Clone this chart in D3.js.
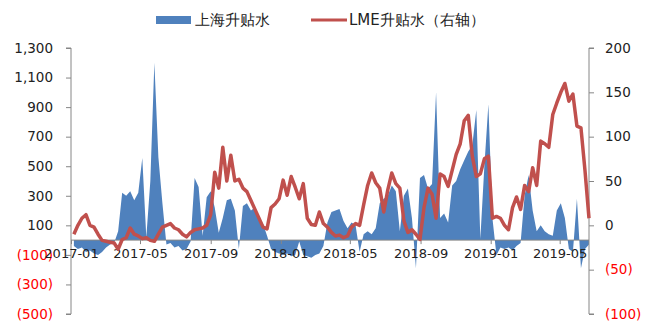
<!DOCTYPE html>
<html>
<head>
<meta charset="utf-8">
<script src="https://cdn.jsdelivr.net/npm/d3@7/dist/d3.min.js"></script>
<style>
  html, body { margin: 0; padding: 0; background: #fff; }
  svg { display: block; }
  text { font-family: "DejaVu Sans", sans-serif; }
</style>
</head>
<body>
<svg id="chart" width="646" height="324"></svg>
<script>
// Weekly observations, first Friday of 2017 onward
const firstWeek = new Date(2017, 0, 6);
const weekCount = 129;

// 上海升贴水 (left axis, yuan/tonne)
const shanghaiPremium = [
  -40, -60, -50, -80, -70, -90, -100, -80, -50, -30,
  -20, 60, 320, 300, 330, 270, 320, 555, 20, 400,
  1200, 560, 250, -30, -20, -50, -40, -70, -60, -10,
  420, 360, 30, 290, 330, 220, 50, 150, 270, 280,
  200, -60, 230, 250, 200, 220, 150, 110, 30, -60,
  -80, -90, -100, -90, -110, -100, -10, -100, -110, -120,
  -100, -90, -40, 120, 190, 200, 210, 130, 80, 120,
  100, -80, 40, 60, 40, 80, 250, 280, 300, 370,
  330, 60, 300, 350, 150, -190, 420, 440, 350, 380,
  1000, 150, 180, 120, 370, 400, 480, 540, 600, 640,
  880, 10, 500, 920, 150, -100, -50, -60, -50, -70,
  -40, -20, 300, 440, 200, 60, 100, 60, 40, 30,
  200, 250, 150, -60, -80, 280, -190, -60, -30
];

// LME升贴水 (right axis, USD/tonne)
const lmePremium = [
  -10, 0, 8, 12, 0, -2, -10, -17, -18, -19,
  -20, -27, -16, -14, -3, -10, -12, -15, -14, -17,
  -18, -10, -2, 0, 2, -3, -5, -10, -13, -8,
  -5, -4, -3, 0, 12, 60, 42, 88, 50, 79,
  50, 52, 42, 38, 28, 18, 8, -2, -4, 20,
  24, 30, 51, 34, 55, 43, 30, 47, 8, 1,
  0, 15, 2, -2, -8, -12, -11, -14, -12, -2,
  2, 0, 23, 45, 59, 48, 42, 15, 40, 59,
  47, 42, 5, -8, -5, -10, -16, 20, 42, 35,
  8, 58, 55, 44, 62, 80, 92, 118, 124, 78,
  55, 58, 75, 78, 8, 10, 8, 0, -5, 20,
  32, 18, 45, 38, 65, 45, 95, 92, 88, 125,
  138, 150, 160, 140, 148, 112, 110, 62, 8
];

const leftTicks = [-500, -300, -100, 100, 300, 500, 700, 900, 1100, 1300];
const rightTicks = [-100, -50, 0, 50, 100, 150, 200];
const monthTicks = ["2017-01", "2017-05", "2017-09", "2018-01", "2018-05", "2018-09", "2019-01", "2019-05"];
const seriesNames = ["上海升贴水", "LME升贴水（右轴）"];

const weeks = d3.range(weekCount).map(i => d3.timeDay.offset(firstWeek, 7 * i));
const parseMonth = d3.timeParse("%Y-%m");

const svg = d3.select("#chart");
const blue = "#4F81BD", red = "#C0504D", axisGrey = "#868686", negRed = "#FF0000";

const plot = { left: 71, right: 589, top: 48, bottom: 314 };

const x = d3.scaleTime()
  .domain([new Date(2017, 0, 1), weeks[weeks.length - 1]])
  .range([plot.left, plot.right]);
const yL = d3.scaleLinear().domain([-500, 1300]).range([plot.bottom, plot.top]);
const yR = d3.scaleLinear().domain([-100, 200]).range([plot.bottom, plot.top]);

const fmt = v => v < 0 ? "(" + d3.format(",")(-v) + ")" : d3.format(",")(v);

// Shanghai premium area
const area = d3.area()
  .x((d, i) => x(weeks[i]))
  .y0(yL(0))
  .y1(d => yL(d));
svg.append("path")
  .datum(shanghaiPremium)
  .attr("d", area)
  .attr("fill", blue);

// Left axis
const gL = svg.append("g")
  .attr("transform", `translate(${plot.left},0)`)
  .call(d3.axisLeft(yL).tickValues(leftTicks).tickSize(5).tickPadding(13).tickFormat(fmt));
gL.select(".domain").attr("stroke", axisGrey).attr("d", `M-5,${plot.top}H0V${plot.bottom}H-5`);
gL.selectAll(".tick line").attr("stroke", axisGrey);
gL.selectAll(".tick text")
  .attr("font-size", 13.5)
  .attr("font-family", "DejaVu Sans")
  .attr("fill", d => d < 0 ? negRed : "#222");

// Right axis
const gR = svg.append("g")
  .attr("transform", `translate(${plot.right},0)`)
  .call(d3.axisRight(yR).tickValues(rightTicks).tickSize(5).tickPadding(11).tickFormat(fmt));
gR.select(".domain").attr("stroke", axisGrey).attr("d", `M5,${plot.top}H0V${plot.bottom}H5`);
gR.selectAll(".tick line").attr("stroke", axisGrey);
gR.selectAll(".tick text")
  .attr("font-size", 13.5)
  .attr("font-family", "DejaVu Sans")
  .attr("fill", d => d < 0 ? negRed : "#222");

// Category axis along the left-axis zero line
const gX = svg.append("g")
  .attr("transform", `translate(0,${yL(0)})`)
  .call(d3.axisBottom(x)
    .tickValues(monthTicks.map(parseMonth))
    .tickSize(4).tickPadding(5)
    .tickFormat(d3.timeFormat("%Y-%m")));
gX.select(".domain").attr("stroke", axisGrey).attr("d", `M${plot.left},0H${plot.right}`);
gX.selectAll(".tick line").attr("stroke", axisGrey);
gX.selectAll(".tick text")
  .attr("font-size", 13)
  .attr("font-family", "DejaVu Sans")
  .attr("fill", "#222");

// LME premium line
const line = d3.line()
  .x((d, i) => x(weeks[i]))
  .y(d => yR(d));
svg.append("path")
  .datum(lmePremium)
  .attr("d", line)
  .attr("fill", "none")
  .attr("stroke", red)
  .attr("stroke-width", 3.5)
  .attr("stroke-linejoin", "round");

// Legend
const legend = svg.append("g").attr("font-family", "'Noto Sans CJK SC', sans-serif").attr("font-size", 15);
legend.append("rect").attr("x", 156).attr("y", 16).attr("width", 35).attr("height", 8).attr("fill", blue);
legend.append("text").attr("x", 195).attr("y", 20).attr("dy", "0.35em").attr("fill", "#222").text(seriesNames[0]);
legend.append("line").attr("x1", 311).attr("x2", 347).attr("y1", 20).attr("y2", 20)
  .attr("stroke", red).attr("stroke-width", 3);
legend.append("text").attr("x", 349).attr("y", 20).attr("dy", "0.35em").attr("fill", "#222").text(seriesNames[1]);
</script>
</body>
</html>
